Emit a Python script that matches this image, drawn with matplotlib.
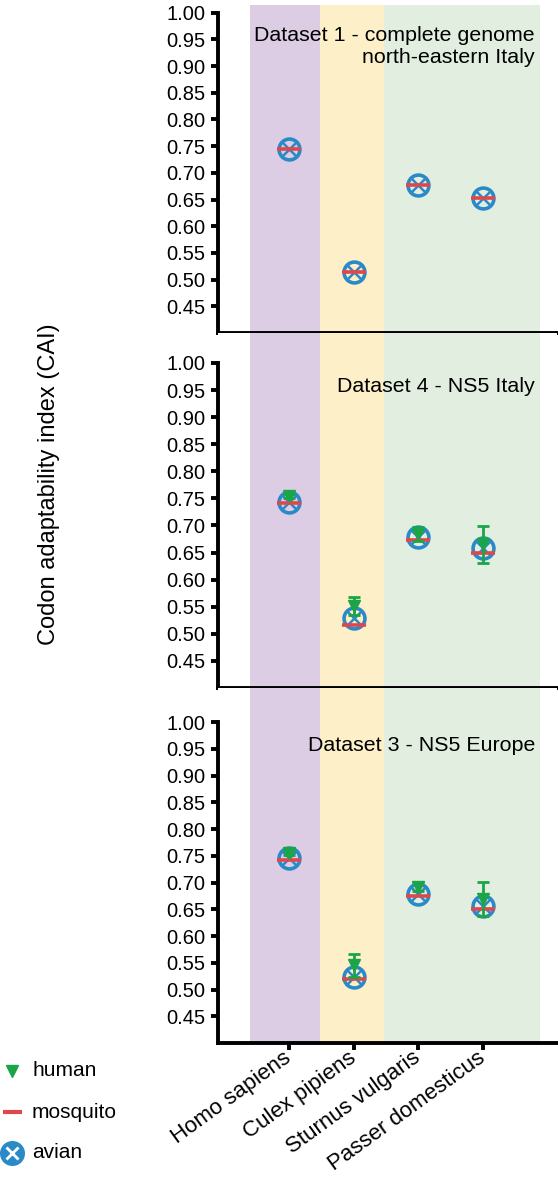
import matplotlib
matplotlib.use('Agg')
import matplotlib.pyplot as plt

plt.rcParams['font.family'] = ['Liberation Sans', 'DejaVu Sans']

# ---------------- Data ----------------
species = ['Homo sapiens', 'Culex pipiens', 'Sturnus vulgaris', 'Passer domesticus']
titles = ['Dataset 1 - complete genome\nnorth-eastern Italy',
          'Dataset 4 - NS5 Italy',
          'Dataset 3 - NS5 Europe']
yticks = [0.45, 0.50, 0.55, 0.60, 0.65, 0.70, 0.75, 0.80, 0.85, 0.90, 0.95, 1.00]
hosts = ['human', 'mosquito', 'avian']

# dataset 1 - complete genome (no human spread)
avian_d1 = [0.744, 0.514, 0.677, 0.652]
mosq_d1 = [0.744, 0.514, 0.677, 0.652]

# dataset 4 - NS5 Italy
avian_d4 = [0.744, 0.529, 0.678, 0.659]
mosq_d4 = [0.741, 0.517, 0.673, 0.650]
human_d4 = [0.754, 0.551, 0.684, 0.665]
human_err_d4 = [0.004, 0.017, 0.013, 0.034]

# dataset 3 - NS5 Europe
avian_d3 = [0.746, 0.523, 0.678, 0.656]
mosq_d3 = [0.743, 0.519, 0.674, 0.651]
human_d3 = [0.755, 0.545, 0.692, 0.670]
human_err_d3 = [0.004, 0.021, 0.007, 0.032]

BLUE = '#2a8ac8'
RED = '#e0474c'
GREEN = '#1ba548'

# ---------------- Figure ----------------
fig = plt.figure(figsize=(5.58, 11.77), dpi=100)
ax1 = fig.add_axes([0.3907, 0.7171, 0.6075, 0.2787])
ax2 = fig.add_axes([0.3907, 0.4155, 0.6075, 0.3016])
ax3 = fig.add_axes([0.3907, 0.1138, 0.6075, 0.3016])
axes = [ax1, ax2, ax3]
ytops = [1.0145, 1.0554, 1.0636]
text_y = [0.935, 0.875, 0.866]

panels = [
    (avian_d1, mosq_d1, None, None),
    (avian_d4, mosq_d4, human_d4, human_err_d4),
    (avian_d3, mosq_d3, human_d3, human_err_d3),
]

x = list(range(len(species)))

for ax, (avian, mosq, human, herr), top, title, ty in zip(axes, panels, ytops, titles, text_y):
    # host shading
    ax.axvspan(-0.603, 0.479, color='#dccde4', lw=0, zorder=0)
    ax.axvspan(0.479, 1.469, color='#fdefc8', lw=0, zorder=0)
    ax.axvspan(1.469, 3.88, color='#e2efe0', lw=0, zorder=0)

    # avian: circle with cross
    ax.plot(x, avian, 'o', ms=15, mfc='none', mec=BLUE, mew=2.6, zorder=3)
    ax.plot(x, avian, 'x', ms=11, color=BLUE, mew=1.8, zorder=3)
    # mosquito: red bar
    ax.plot(x, mosq, '_', ms=17, color=RED, mew=2.6, zorder=4)
    # human: triangle with error bar
    if human is not None:
        ax.errorbar(x, human, yerr=herr, fmt='v', ms=8, color=GREEN,
                    elinewidth=2, capsize=4.5, capthick=2, zorder=5)

    ax.set_xlim(-1.098, 4.144)
    ax.set_ylim(0.40, top)
    ax.set_yticks(yticks)
    ax.set_yticklabels(['%.2f' % t for t in yticks])
    ax.set_xticks(x)
    ax.spines['top'].set_visible(False)
    ax.spines['right'].set_visible(False)
    ax.spines['left'].set_bounds(0.40, 1.00)
    ax.spines['left'].set_linewidth(2.8)
    ax.spines['bottom'].set_linewidth(2.8)
    ax.tick_params(axis='both', direction='out', length=5, width=2.8,
                   labelsize=14.5, pad=4)
    ax.set_facecolor('white')
    ax.text(0.935, ty, title, transform=ax.transAxes, ha='right', va='top',
            fontsize=15.4, linespacing=1.15, zorder=6)

ax1.set_xticklabels([])
ax2.set_xticklabels([])
ax3.set_xticklabels(species, rotation=36, ha='right', va='center',
                    rotation_mode='anchor', fontsize=16)

fig.text(0.087, 0.589, 'Codon adaptability index (CAI)', rotation=90,
         ha='center', va='center', fontsize=17)

# ---------------- Legend ----------------
# small blank axes in the bottom-left corner, units are pixels from its top
lax = fig.add_axes([0, 0, 140 / 558, 130 / 1177])
lax.set_xlim(0, 140)
lax.set_ylim(130, 0)
lax.axis('off')
rows = [24, 65, 106]
lax.plot(12, rows[0], 'v', ms=8, color=GREEN, clip_on=False)
lax.plot([3, 22], [rows[1], rows[1]], '-', lw=3, color=RED, solid_capstyle='butt')
lax.plot(12, rows[2], 'o', ms=17, color=BLUE, clip_on=False)
lax.plot(12, rows[2], 'x', ms=8, mew=2, color='white', clip_on=False)
for r, name in zip(rows, hosts):
    lax.text(32, r, name, fontsize=15, ha='left', va='center')

fig.savefig('out.png', dpi=100)
